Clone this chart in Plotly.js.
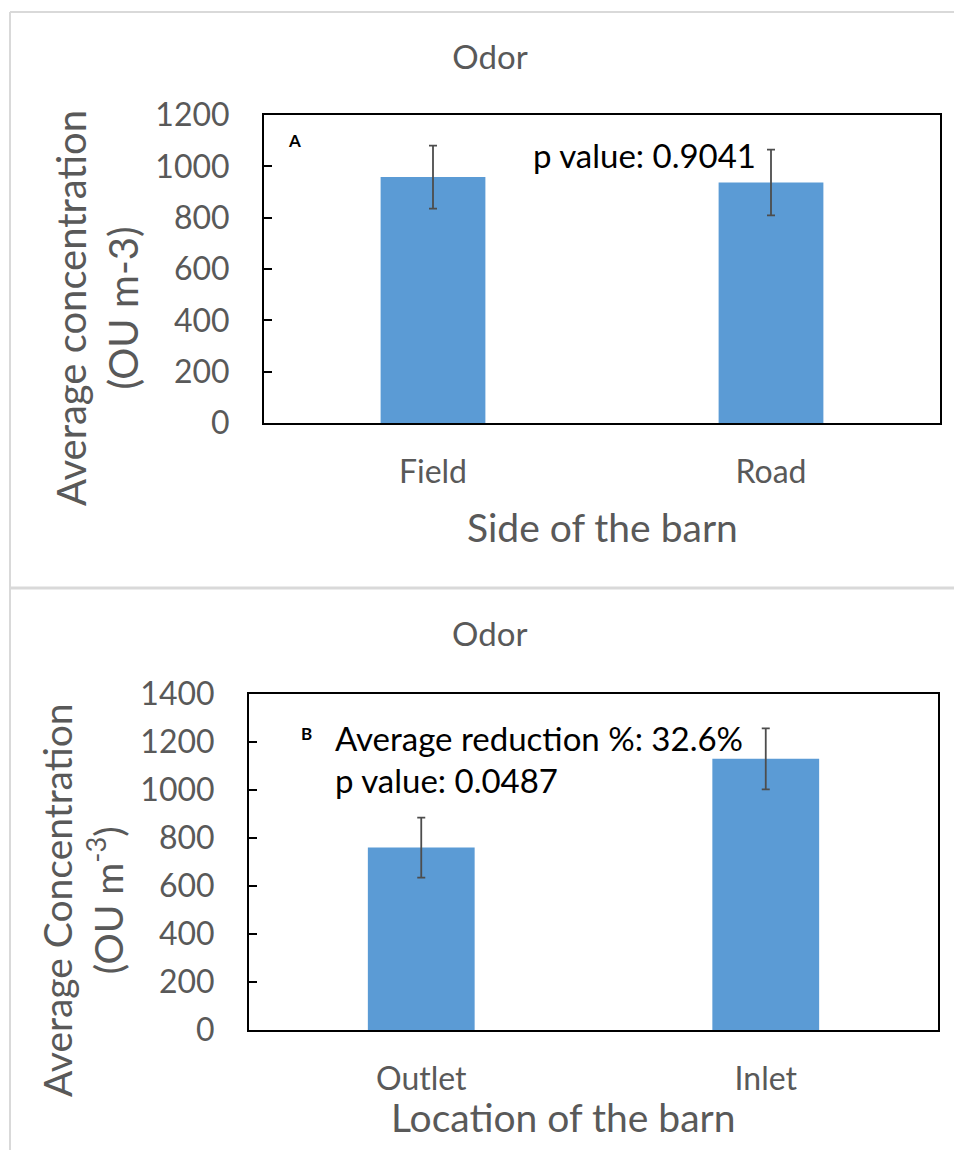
<!DOCTYPE html>
<html>
<head>
<meta charset="utf-8">
<script src="https://cdn.plot.ly/plotly-3.0.1.min.js"></script>
<style>html,body{margin:0;padding:0;background:#fff;}#chart{width:954px;height:1155px;}</style>
</head>
<body>
<div id="chart"></div>
<script>
// Panel A data
const sidesA = ["Field", "Road"];
const meansA = [958, 937];
const errorsA = [123, 128];
// Panel B data
const locationsB = ["Outlet", "Inlet"];
const meansB = [760, 1130];
const errorsB = [125, 127];

const W = 954, H = 1155;
const px = v => v / W;
const py = v => 1 - v / H;

const FONT = "Lato, 'Open Sans', sans-serif";
const GREY = "#595959";
const BAR = "#5B9BD5";

const traces = [
  {
    type: "bar", x: sidesA, y: meansA, xaxis: "x", yaxis: "y",
    width: 0.31, marker: {color: BAR},
    error_y: {type: "data", array: errorsA, visible: true, color: "#4d4d4d", thickness: 1.8, width: 4},
    hoverinfo: "x+y", showlegend: false
  },
  {
    type: "bar", x: locationsB, y: meansB, xaxis: "x2", yaxis: "y2",
    width: 0.31, marker: {color: BAR},
    error_y: {type: "data", array: errorsB, visible: true, color: "#4d4d4d", thickness: 1.8, width: 4},
    hoverinfo: "x+y", showlegend: false
  }
];

const xBase = {
  type: "category", range: [-0.5, 1.5], showline: true, mirror: true,
  linecolor: "#000", linewidth: 2, ticks: "", showgrid: false, zeroline: false,
  tickfont: {family: FONT, size: 32, color: GREY}, ticklabelstandoff: 20, fixedrange: true
};
const yBase = {
  showline: true, mirror: true, linecolor: "#000", linewidth: 2,
  ticks: "inside", ticklen: 8, tickwidth: 1.5, tickcolor: "#000",
  showgrid: false, zeroline: false, dtick: 200,
  tickfont: {family: FONT, size: 32, color: GREY}, ticklabelstandoff: 26, fixedrange: true
};

const layout = {
  width: W, height: H,
  margin: {l: 0, r: 0, t: 0, b: 0},
  paper_bgcolor: "#fff", plot_bgcolor: "#fff",
  font: {family: FONT, color: GREY},
  title: {text: "Odor", x: px(490), xanchor: "center", y: py(57), yanchor: "middle",
          font: {family: FONT, size: 33, color: GREY}},
  xaxis: Object.assign({}, xBase, {domain: [px(264), px(940)], anchor: "y"}),
  yaxis: Object.assign({}, yBase, {domain: [py(423), py(115)], range: [0, 1200], anchor: "x"}),
  xaxis2: Object.assign({}, xBase, {domain: [px(249), px(938)], anchor: "y2"}),
  yaxis2: Object.assign({}, yBase, {domain: [py(1030), py(694)], range: [0, 1400], anchor: "x2"}),
  shapes: [
    {type: "line", xref: "paper", yref: "paper", x0: px(10), x1: 1, y0: py(12), y1: py(12), line: {color: "#d9d9d9", width: 2}},
    {type: "line", xref: "paper", yref: "paper", x0: px(10), x1: px(10), y0: py(12), y1: py(1150), line: {color: "#d9d9d9", width: 2}},
    {type: "line", xref: "paper", yref: "paper", x0: px(10), x1: 1, y0: py(588), y1: py(588), line: {color: "#d9d9d9", width: 3}}
  ],
  annotations: [
    {text: "Odor", xref: "paper", yref: "paper", x: px(490), y: py(633), xanchor: "center", yanchor: "middle",
     showarrow: false, font: {family: FONT, size: 33, color: GREY}},
    {text: "<b>A</b>", xref: "paper", yref: "paper", x: px(294), y: py(140), xanchor: "center", yanchor: "middle",
     showarrow: false, font: {family: FONT, size: 17, color: "#000"}},
    {text: "p value: 0.9041", xref: "paper", yref: "paper", x: px(644), y: py(155), xanchor: "center", yanchor: "middle",
     showarrow: false, font: {family: FONT, size: 33, color: "#000"}},
    {text: "<b>B</b>", xref: "paper", yref: "paper", x: px(306), y: py(733), xanchor: "center", yanchor: "middle",
     showarrow: false, font: {family: FONT, size: 17, color: "#000"}},
    {text: "Average reduction %: 32.6%", xref: "paper", yref: "paper", x: px(333), y: py(738), xanchor: "left", yanchor: "middle",
     showarrow: false, font: {family: FONT, size: 33, color: "#000"}},
    {text: "p value: 0.0487", xref: "paper", yref: "paper", x: px(333), y: py(780), xanchor: "left", yanchor: "middle",
     showarrow: false, font: {family: FONT, size: 33, color: "#000"}},
    {text: "Side of the barn", xref: "paper", yref: "paper", x: px(602), y: py(527), xanchor: "center", yanchor: "middle",
     showarrow: false, font: {family: FONT, size: 39, color: GREY}},
    {text: "Location of the barn", xref: "paper", yref: "paper", x: px(563), y: py(1117), xanchor: "center", yanchor: "middle",
     showarrow: false, font: {family: FONT, size: 39, color: GREY}},
    {text: "Average concentration<br>(OU m-3)", xref: "paper", yref: "paper", x: px(97), y: py(308), xanchor: "center", yanchor: "middle",
     textangle: -90, showarrow: false, font: {family: FONT, size: 40, color: GREY}},
    {text: "Average Concentration<br>(OU m<sup>-3</sup>)", xref: "paper", yref: "paper", x: px(82), y: py(900), xanchor: "center", yanchor: "middle",
     textangle: -90, showarrow: false, font: {family: FONT, size: 39, color: GREY}}
  ]
};

Plotly.newPlot("chart", traces, layout, {displayModeBar: false, staticPlot: false});
</script>
</body>
</html>
